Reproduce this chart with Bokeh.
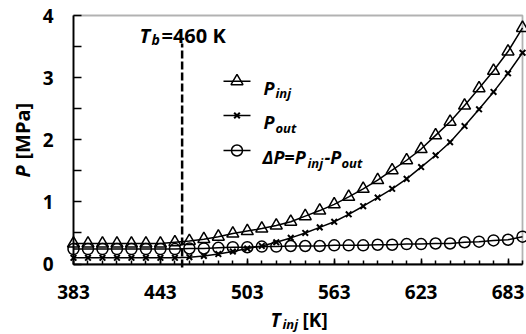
from bokeh.plotting import figure
from bokeh.models import Range1d, FixedTicker, Label, BoxAnnotation
from bokeh.embed import file_html
from bokeh.resources import INLINE

# ---------------- data ----------------
T_inj = [383, 393, 403, 413, 423, 433, 443, 453, 463, 473, 483, 493, 503, 513, 523, 533,
         543, 553, 563, 573, 583, 593, 603, 613, 623, 633, 643, 653, 663, 673, 683, 693]
P_inj = [0.33, 0.33, 0.33, 0.33, 0.33, 0.33, 0.33, 0.35, 0.37, 0.40, 0.44, 0.49, 0.53, 0.57,
         0.62, 0.68, 0.77, 0.86, 0.96, 1.08, 1.21, 1.35, 1.51, 1.67, 1.85, 2.07, 2.29, 2.55,
         2.83, 3.11, 3.42, 3.80]
P_out = [0.10, 0.10, 0.10, 0.10, 0.10, 0.10, 0.10, 0.10, 0.11, 0.13, 0.16, 0.20, 0.25, 0.29,
         0.35, 0.42, 0.50, 0.59, 0.68, 0.80, 0.93, 1.07, 1.21, 1.37, 1.56, 1.75, 1.96, 2.22,
         2.49, 2.77, 3.07, 3.40]
dP = [0.24, 0.24, 0.24, 0.24, 0.24, 0.24, 0.24, 0.24, 0.25, 0.25, 0.26, 0.27, 0.27, 0.28,
      0.28, 0.29, 0.29, 0.29, 0.30, 0.30, 0.30, 0.31, 0.31, 0.32, 0.32, 0.33, 0.33, 0.35,
      0.36, 0.38, 0.39, 0.44]
x_ticks = [383, 443, 503, 563, 623, 683]
y_ticks = [0, 1, 2, 3, 4]
y_minor = [0.5, 1.5, 2.5, 3.5]
tb_pos = 458
tb_text = "=460 K"

# ---------------- layout helpers ----------------
W, H = 526, 334
X_LO, X_HI, Y_LO, Y_HI = 383, 693, 0, 4          # the data box
FL, FR, FT, FB = 73, 522, 15, 263.5               # where the data box sits on the canvas


def fx(px):
    return X_LO + (px - FL) * (X_HI - X_LO) / (FR - FL)


def fy(py):
    return Y_LO + (FB - py) * (Y_HI - Y_LO) / (FB - FT)


FONT = "Open Sans"

# the frame fills the whole canvas; the axes are pinned at the data box edges,
# so that texts and markers outside the data box are not clipped
p = figure(width=W, height=H, output_backend="svg", toolbar_location=None,
           x_range=Range1d(fx(0), fx(W)), y_range=Range1d(fy(H), fy(0)),
           min_border=0)
p.background_fill_color = "white"
p.border_fill_color = "white"
p.grid.visible = False
p.outline_line_color = None

for ax in (p.xaxis[0], p.yaxis[0]):
    ax.axis_line_width = 1.8
    ax.axis_line_color = "black"
    ax.major_tick_out = 0
    ax.minor_tick_out = 0
    ax.major_tick_line_width = 1.5
    ax.minor_tick_line_width = 1.5
    ax.major_label_text_font = FONT
    ax.major_label_text_font_size = "19px"
    ax.major_label_text_font_style = "bold"
    ax.major_label_text_color = "black"

xa = p.xaxis[0]
xa.fixed_location = Y_LO
xa.bounds = (X_LO, X_HI)
xa.ticker = FixedTicker(ticks=x_ticks, minor_ticks=T_inj)
xa.major_tick_in = 6
xa.minor_tick_in = 4
xa.major_label_standoff = 21

ya = p.yaxis[0]
ya.fixed_location = X_LO
ya.bounds = (Y_LO, Y_HI)
ya.ticker = FixedTicker(ticks=y_ticks, minor_ticks=y_minor)
ya.major_tick_in = 8
ya.minor_tick_in = 8
ya.major_label_standoff = 20

# box around the data area (top and right edges)
p.add_layout(BoxAnnotation(left=X_LO, right=X_HI, bottom=Y_LO, top=Y_HI,
                           fill_alpha=0, line_color="black", line_width=1.8))

# ---------------- series ----------------
p.line(T_inj, P_inj, line_color="black", line_width=1.5)
p.scatter(T_inj, P_inj, marker="triangle", size=12, fill_color=None,
          line_color="black", line_width=1.5)
p.line(T_inj, P_out, line_color="black", line_width=1.5)
p.scatter(T_inj, P_out, marker="x", size=8, line_color="black", line_width=2)
p.line(T_inj, dP, line_color="black", line_width=1.5)
p.scatter(T_inj, dP, marker="circle", size=11, fill_color=None,
          line_color="black", line_width=1.5)

# boiling temperature marker
p.segment(x0=[tb_pos], y0=[fy(267)], x1=[tb_pos], y1=[fy(43)],
          line_color="black", line_width=2.5, line_dash="8 3")


def lab(text, px, py, size=17, style="bold", angle=0):
    p.add_layout(Label(x=fx(px), y=fy(py), text=text, text_font=FONT,
                       text_font_size=f"{size}px", text_font_style=style,
                       text_color="black", text_baseline="alphabetic",
                       text_align="left", angle=angle, angle_units="deg"))


# T_b label
lab("T", 139, 35, 20, "bold italic")
lab("b", 151, 39, 14, "bold italic")
lab(tb_text, 161, 35, 20, "bold")

# ---------------- manual legend ----------------
rows = [80.7, 115, 150]
markers = [("triangle", 12, 1.5), ("x", 8, 2), ("circle", 11, 1.5)]
for ry, (mk, sz, lw) in zip(rows, markers):
    p.line([fx(223), fx(250)], [fy(ry), fy(ry)], line_color="black", line_width=1.5)
    p.scatter([fx(236.5)], [fy(ry)], marker=mk, size=sz, fill_color=None,
              line_color="black", line_width=lw)

lab("P", 263, rows[0] + 6.5, 18, "bold italic")
lab("inj", 275, rows[0] + 12, 13, "bold italic")
lab("P", 263, rows[1] + 6.5, 18, "bold italic")
lab("out", 275, rows[1] + 12, 13, "bold italic")
lab("\u0394P=P", 262, rows[2] + 6.5, 18, "bold italic")
lab("inj", 307, rows[2] + 12, 13, "bold italic")
lab("-P", 324, rows[2] + 6.5, 18, "bold italic")
lab("out", 341, rows[2] + 12, 13, "bold italic")

# ---------------- axis titles ----------------
lab("T", 270, 319, 19, "bold italic")
lab("inj", 282, 323, 13, "bold italic")
lab("[K]", 302, 319, 19, "bold")

lab("P", 22, 177, 20, "bold italic", angle=90)
lab("[MPa]", 22, 159, 20, "bold", angle=90)

open("out.html", "w").write(file_html(p, INLINE))
